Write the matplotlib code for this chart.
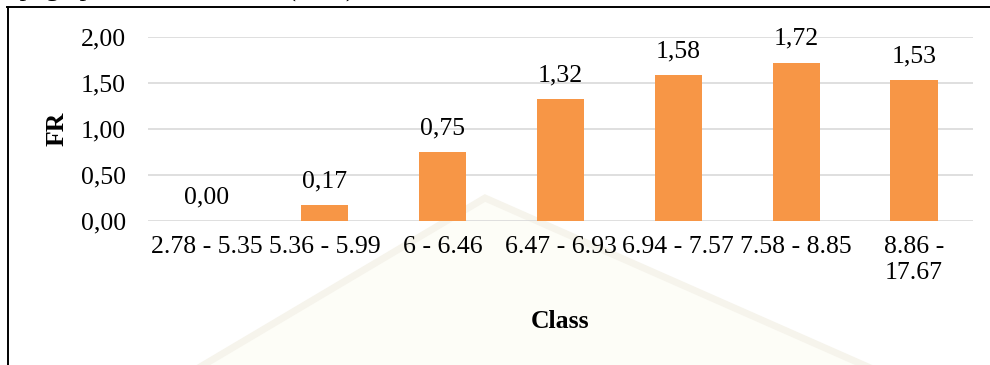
import matplotlib
matplotlib.use("Agg")
import matplotlib.pyplot as plt
from matplotlib.lines import Line2D
from matplotlib.patches import Polygon

# Frequency ratio (FR) per TWI class
classes = ["2.78 - 5.35", "5.36 - 5.99", "6 - 6.46", "6.47 - 6.93",
           "6.94 - 7.57", "7.58 - 8.85", "8.86 -\n17.67"]
fr_values = [0.00, 0.17, 0.75, 1.32, 1.58, 1.72, 1.53]
y_ticks = [0.0, 0.5, 1.0, 1.5, 2.0]

W, H = 990, 365
plt.rcParams["font.family"] = ["Liberation Serif", "DejaVu Serif"]
fig = plt.figure(figsize=(W / 100, H / 100), dpi=100)


def fx(px):
    return px / W


def fy(py):
    return 1 - py / H


# faint background emblem
emblem = Polygon([[fx(195), fy(370)], [fx(485), fy(198)], [fx(875), fy(370)]],
                 closed=True, transform=fig.transFigure,
                 facecolor="#FDFDF7", edgecolor="#F6F4EC", linewidth=5, zorder=-5)
fig.patches.append(emblem)

# frame of the figure panel
fig.add_artist(Line2D([fx(7.5), fx(7.5)], [fy(7), fy(365)], color="black",
                      linewidth=1.4, transform=fig.transFigure))
fig.add_artist(Line2D([fx(7), fx(990)], [fy(7), fy(7)], color="black",
                      linewidth=1.4, transform=fig.transFigure))

# caption line above the panel (cut at the top edge)
fig.text(fx(355), fy(-3), "Frequency ratio of topographic wetness index (TWI)",
         ha="right", va="baseline", fontsize=19, color="black")

ax = fig.add_axes([fx(148), fy(221), fx(973) - fx(148), fy(36.7) - fy(221)])
ax.set_facecolor("none")
ax.set_zorder(2)

x = range(len(classes))
ax.bar(x, fr_values, width=0.4, color="#F79646", zorder=3)

for xi, v in zip(x, fr_values):
    ax.annotate(f"{v:.2f}".replace(".", ","), (xi, v), xytext=(0, 12.7),
                textcoords="offset points", ha="center", va="baseline",
                fontsize=18.5, color="black", annotation_clip=False)

ax.set_xlim(-0.5, len(classes) - 0.5)
ax.set_ylim(0, 2.0)
ax.set_yticks(y_ticks)
ax.set_yticklabels([f"{t:.2f}".replace(".", ",") for t in y_ticks])
ax.set_xticks(list(x))
ax.set_xticklabels(classes)
ax.grid(axis="y", color="#D9D9D9", linewidth=1.2, zorder=0)
ax.set_axisbelow(True)
for s in ax.spines.values():
    s.set_visible(False)
ax.tick_params(axis="both", length=0, labelsize=18.5, colors="black")
ax.tick_params(axis="y", pad=16)
ax.tick_params(axis="x", pad=11)

fig.text(fx(560.5), fy(322), "Class", ha="center", va="center",
         fontsize=18.5, fontweight="bold", zorder=3)
fig.text(fx(57), fy(128.5), "FR", ha="center", va="center", rotation=90,
         fontsize=18.5, fontweight="bold", zorder=3)

fig.savefig("out.png", dpi=100)
